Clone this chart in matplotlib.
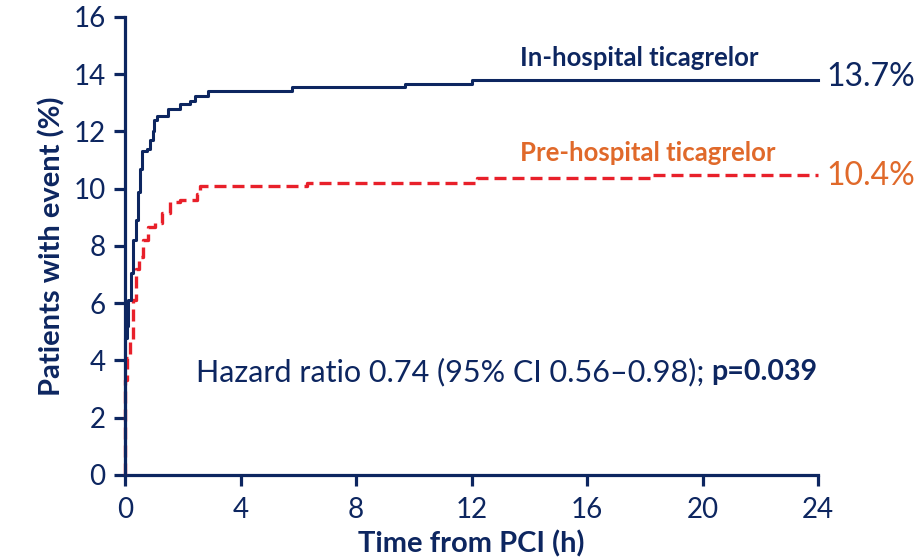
import matplotlib.pyplot as plt

# curve values (time in h, % with event)
inhosp_t = [0, 0.0, 0.06, 0.11, 0.2, 0.29, 0.38, 0.46, 0.52, 0.6, 0.75, 0.87, 0.96, 1.01,
            1.1, 1.5, 1.9, 2.25, 2.42, 2.87, 5.8, 9.7, 12.0, 24]
inhosp_y = [0, 4.8, 5.2, 6.1, 7.05, 8.2, 8.9, 9.9, 10.7, 11.3, 11.4, 11.7, 12.0, 12.4,
            12.55, 12.8, 12.95, 13.05, 13.25, 13.4, 13.55, 13.65, 13.8, 13.8]

prehosp_t = [0, 0.0, 0.06, 0.17, 0.28, 0.38, 0.48, 0.62, 0.8, 1.04, 1.27, 1.56, 1.9, 2.48,
             2.6, 6.3, 12.2, 18.2, 24]
prehosp_y = [0, 3.3, 4.1, 4.7, 6.1, 7.2, 7.6, 8.2, 8.65, 8.8, 9.15, 9.55, 9.6, 9.8,
             10.1, 10.2, 10.36, 10.47, 10.47]

x_ticks = [0, 4, 8, 12, 16, 20, 24]
y_ticks = [0, 2, 4, 6, 8, 10, 12, 14, 16]

navy = '#0d2660'
red = '#e8202a'
orange = '#e0692a'

plt.rcParams['font.family'] = ['Lato', 'DejaVu Sans']

fig = plt.figure(figsize=(9.22, 5.6), dpi=100)
ax = fig.add_axes([0.1356, 0.152, 0.7516, 0.8177])

ax.plot(prehosp_t, prehosp_y, drawstyle='steps-post', color=red, lw=2.4,
        dashes=(3.6, 1.8), clip_on=False, zorder=3)
ax.plot(inhosp_t, inhosp_y, drawstyle='steps-post', color=navy, lw=2.2,
        clip_on=False, zorder=4)

ax.set_xlim(0, 24)
ax.set_ylim(0, 16)
ax.set_xticks(x_ticks)
ax.set_yticks(y_ticks)

for s in ['top', 'right']:
    ax.spines[s].set_visible(False)
for s in ['left', 'bottom']:
    ax.spines[s].set_color(navy)
    ax.spines[s].set_linewidth(2.3)

ax.tick_params(colors=navy, width=2.3, length=8, direction='out', labelsize=20)
ax.tick_params(axis='x', pad=8)
ax.tick_params(axis='y', pad=6)

ax.set_xlabel('Time from PCI (h)', fontsize=21, fontweight='bold', color=navy, labelpad=5)
ax.set_ylabel('Patients with event (%)', fontsize=21, fontweight='bold', color=navy, labelpad=6)

ax.text(17.8, 14.55, 'In-hospital ticagrelor', fontsize=18.5, fontweight='bold',
        color=navy, ha='center', va='center')
ax.text(24.3, 13.9, '13.7%', fontsize=23, color=navy, ha='left', va='center')
ax.text(18.1, 11.25, 'Pre-hospital ticagrelor', fontsize=18.5, fontweight='bold',
        color=orange, ha='center', va='center')
ax.text(24.3, 10.45, '10.4%', fontsize=23, color=orange, ha='left', va='center')

ax.text(2.46, 3.6, 'Hazard ratio 0.74 (95% CI 0.56\u20130.98);', fontsize=22,
        color=navy, ha='left', va='center')
ax.text(20.3, 3.6, 'p=0.039', fontsize=20.5, fontweight='bold',
        color=navy, ha='left', va='center')

fig.savefig('out.png', dpi=100)
